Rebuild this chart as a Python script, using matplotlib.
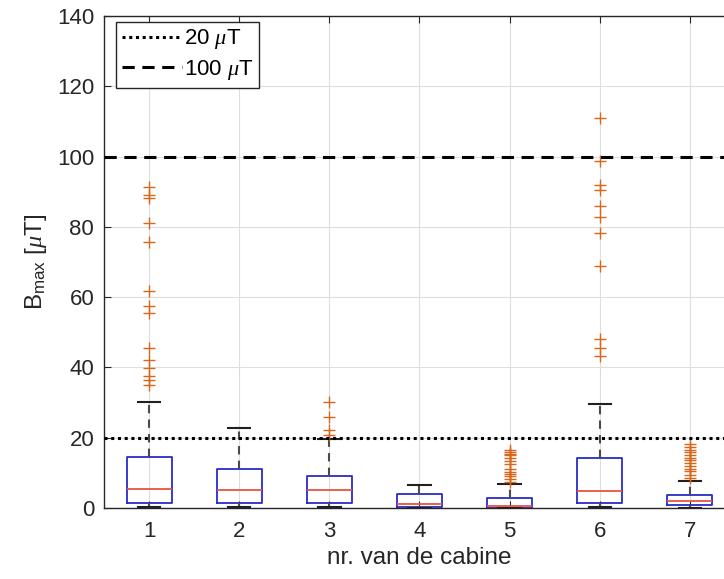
import matplotlib
matplotlib.use("Agg")
import matplotlib.pyplot as plt
from matplotlib.lines import Line2D

# box statistics per cabin (uT)
cabine = [1, 2, 3, 4, 5, 6, 7]
q1 = [1.5, 1.5, 1.3, 0.2, 0.1, 1.5, 1.0]
med = [5.4, 5.1, 5.1, 1.1, 0.5, 4.8, 2.1]
q3 = [14.4, 11.1, 9.0, 3.9, 2.9, 14.1, 3.8]
whislo = [0.4, 0.4, 0.2, 0.0, 0.0, 0.4, 0.1]
whishi = [30.1, 22.9, 19.6, 6.5, 6.9, 29.5, 7.8]
fliers = [
    [91.3, 89.1, 88.1, 81.2, 75.6, 61.8, 57.4, 55.4, 45.6, 42.1, 39.7, 37.6, 36.4, 35.0],
    [],
    [30.2, 26.0, 22.2, 20.7],
    [],
    [16.5, 16.0, 15.5, 15.0, 14.2, 13.5, 12.5, 11.2, 10.3, 9.8, 9.2, 8.2, 7.5],
    [111.0, 98.6, 91.8, 90.6, 86.0, 82.9, 78.2, 69.0, 48.1, 45.6, 43.3],
    [18.3, 17.5, 16.6, 15.8, 15.0, 14.3, 13.6, 12.8, 12.0, 11.2, 10.4, 9.5, 8.6],
]
limits = [20, 100]
limit_labels = ["20 $\\mu$T", "100 $\\mu$T"]

plt.rcParams['font.family'] = ['Liberation Sans', 'DejaVu Sans']
plt.rcParams['mathtext.fontset'] = 'custom'
plt.rcParams['mathtext.rm'] = 'Liberation Sans'
plt.rcParams['mathtext.sf'] = 'Liberation Sans'
plt.rcParams['mathtext.it'] = 'Liberation Serif:italic'

fig = plt.figure(figsize=(7.24, 5.79), dpi=100)
# axes run past the right edge of the picture, as in the reference crop
ax = fig.add_axes([0.1436, 0.1226, 0.8716, 0.8498])

stats = []
for i in range(len(cabine)):
    stats.append(dict(q1=q1[i], med=med[i], q3=q3[i], whislo=whislo[i],
                      whishi=whishi[i], fliers=fliers[i], label=str(cabine[i])))

ax.bxp(stats, positions=cabine, widths=0.5, capwidths=0.25,
       boxprops=dict(color='#2b2bc8', linewidth=1.3),
       medianprops=dict(color='#e8553f', linewidth=1.3),
       whiskerprops=dict(color='#4a4a4a', linewidth=1.5, linestyle=(0, (4, 3))),
       capprops=dict(color='#202020', linewidth=1.5),
       flierprops=dict(marker='+', markeredgecolor='#d9661a', markersize=9,
                       markeredgewidth=1.0, linestyle='none'))

ax.axhline(limits[0], color='black', linewidth=2.2, linestyle=(0, (1, 1.2)), zorder=3)
ax.axhline(limits[1], color='black', linewidth=2.2, linestyle=(0, (4, 2.5)), zorder=3)

ax.set_xlim(0.5, 7.5)
ax.set_ylim(0, 140)
ax.set_yticks(range(0, 141, 20))
ax.set_xticks(cabine)
ax.set_xticklabels([str(c) for c in cabine])

ax.grid(True, color='#dedede', linewidth=0.8)
ax.set_axisbelow(True)
for s in ax.spines.values():
    s.set_color('#262626')
    s.set_linewidth(1.0)
ax.tick_params(direction='in', length=5, top=True, right=True,
               labelsize=16, colors='#262626')
ax.tick_params(axis='x', pad=9)
ax.tick_params(axis='y', pad=7)

ax.set_xlabel("nr. van de cabine", fontsize=17.5, color='#262626', labelpad=4)
ax.set_ylabel("B$_{\\mathrm{max}}$ [$\\mu$T]", fontsize=17.5, color='#262626', labelpad=6)

handles = [Line2D([], [], color='black', linewidth=2.2, linestyle=(0, (1, 1.2))),
           Line2D([], [], color='black', linewidth=2.2, linestyle=(0, (4, 2.5)))]
leg = ax.legend(handles, limit_labels, loc='upper left', fontsize=16,
                bbox_to_anchor=(0.019, 0.988), borderaxespad=0,
                handlelength=2.7, handletextpad=0.1, borderpad=0.25,
                labelspacing=0.3, fancybox=False, framealpha=1)
leg.get_frame().set_edgecolor('#262626')
leg.get_frame().set_linewidth(1.0)

fig.savefig("out.png", dpi=100)
